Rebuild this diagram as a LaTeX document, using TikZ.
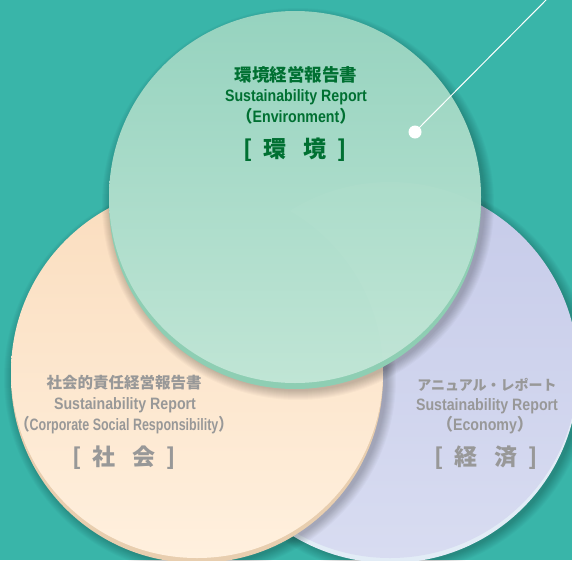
\documentclass[tikz,border=0pt]{standalone}
\usepackage{fontspec}
\usepackage{graphicx}
\newfontfamily\jp{Noto Sans CJK JP}
\newfontfamily\en[FakeStretch=0.86]{Liberation Sans}
\definecolor{bg}{RGB}{57,181,169}
\definecolor{gtop}{RGB}{150,211,191}
\definecolor{gbot}{RGB}{192,229,213}
\definecolor{grim}{RGB}{142,206,179}
\definecolor{otop}{RGB}{250,221,190}
\definecolor{obot}{RGB}{255,240,222}
\definecolor{orim}{RGB}{232,206,175}
\definecolor{btop}{RGB}{198,203,233}
\definecolor{bbot}{RGB}{216,220,241}
\definecolor{brim}{RGB}{226,236,246}
\definecolor{gtxt}{RGB}{0,112,50}
\definecolor{txtgray}{RGB}{152,152,152}
\begin{document}
\begin{tikzpicture}[x=1pt,y=-1pt,
  jtitleg/.style={inner sep=0pt,text=gtxt,font={\jp\bfseries\fontsize{17.5}{18}\selectfont}},
  jtitleo/.style={inner sep=0pt,text=txtgray,font={\jp\bfseries\fontsize{15.5}{16}\selectfont}},
  jtitleb/.style={inner sep=0pt,text=txtgray,font={\jp\bfseries\fontsize{14}{15}\selectfont}},
  entxt/.style={inner sep=0pt,font={\en\bfseries\fontsize{16.5}{17}\selectfont}},
  brk/.style={inner sep=0pt,font={\jp\bfseries\fontsize{23}{24}\selectfont}},
  shadowring/.style={black,opacity=0.025}]
\useasboundingbox (0,0) rectangle (572,560);
\fill[bg] (0,0) rectangle (572,560);

% blue disc (economy)
\foreach \k in {1,...,10}{\fill[shadowring] (393,376) circle[radius=188pt+\k pt];}
\fill[brim] (390,375) circle[radius=188pt];
\shade[top color=btop,bottom color=bbot] (390,370) circle[radius=188pt];

% orange disc (society)
\foreach \k in {1,...,10}{\fill[shadowring] (200,378) circle[radius=186pt+\k pt];}
\fill[orim] (197,377) circle[radius=186pt];
\shade[top color=otop,bottom color=obot] (197,372) circle[radius=186pt];

% green disc (environment)
\foreach \k in {1,...,10}{\fill[shadowring] (298,204) circle[radius=186pt+\k pt];}
\fill[grim] (295,203) circle[radius=186pt];
\shade[top color=gtop,bottom color=gbot] (295,197) circle[radius=186pt];
\begin{scope}
  \clip (295,197) circle[radius=186pt];
  \clip (390,370) circle[radius=188pt];
  \fill[white,opacity=0.035,even odd rule] (197,372) circle[radius=186pt] (0,0) rectangle (572,560);
\end{scope}

% green texts
\node[jtitleg] (g1) at (296,75) {環境経営報告書};
\node[entxt,text=gtxt] (g2) at (296,97) {Sustainability Report};
\node[entxt,text=gtxt] (g3) at (296,116) {{\jp（}Environment{\jp）}};
\node[brk,text=gtxt] (g4) at (295,150) {[\hspace{11pt}環\hspace{17pt}境\hspace{11pt}]};

% orange texts
\node[jtitleo] (o1) at (124,383) {社会的責任経営報告書};
\node[entxt,text=txtgray] (o2) at (125,405) {Sustainability Report};
\node[entxt,text=txtgray] (o3) at (124,425) {\scalebox{0.88}[1]{{\jp（}Corporate Social Responsibility{\jp）}}};
\node[brk,text=txtgray] (o4) at (124,458) {[\hspace{11pt}社\hspace{17pt}会\hspace{11pt}]};

% blue texts
\node[jtitleb] (b1) at (487,385) {アニュアル・レポート};
\node[entxt,text=txtgray] (b2) at (487,406) {Sustainability Report};
\node[entxt,text=txtgray] (b3) at (485,425) {{\jp（}Economy{\jp）}};
\node[brk,text=txtgray] (b4) at (486,458) {[\hspace{11pt}経\hspace{17pt}済\hspace{11pt}]};

% leader
\node[circle,fill=white,inner sep=0pt,minimum size=13pt] (dot) at (415,132) {};
\coordinate (lineend) at (548,-2);
\draw[white,line width=1pt] (dot.center) -- (lineend);
\end{tikzpicture}
\end{document}
